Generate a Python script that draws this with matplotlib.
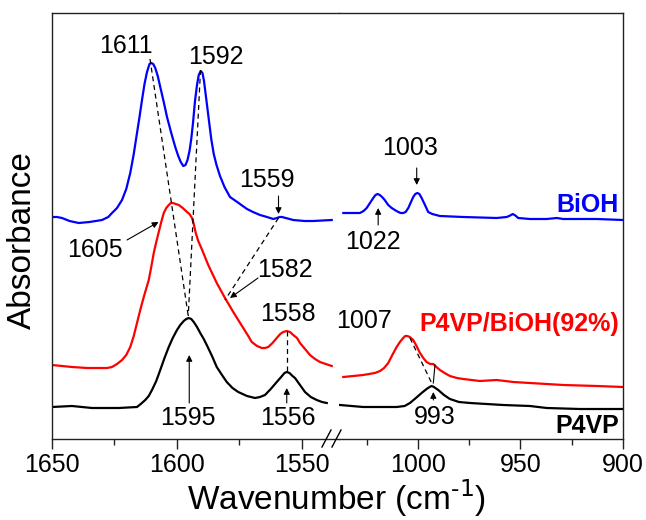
import numpy as np
import matplotlib.pyplot as plt
from matplotlib.lines import Line2D

plt.rcParams['font.family'] = ['Liberation Sans', 'DejaVu Sans']
plt.rcParams['mathtext.default'] = 'regular'

# ---- spectra, 1650-1535 cm-1 window (wavenumber, absorbance offset a.u.) ----
wn_bioh_hi = [1650, 1648, 1646, 1643, 1639.3, 1635, 1630, 1627.5, 1626, 1624, 1622,
              1620.3, 1618.7, 1617.3, 1616, 1615, 1614, 1613, 1612, 1611, 1610.3,
              1609.5, 1608.7, 1607.7, 1606.7, 1605.3, 1604, 1602.3, 1600.7, 1599.5,
              1598.5, 1597.5, 1596.6, 1595.8, 1595, 1594.3, 1593.6, 1592.8, 1592,
              1591.3, 1590.5, 1589.8, 1589.2, 1588.3, 1587.3, 1586.3, 1585.3, 1584.2,
              1582.8, 1581, 1578.8, 1576.5, 1574.8, 1572, 1569.6, 1566.8, 1564,
              1561.5, 1560, 1559, 1558, 1556.5, 1553.5, 1549, 1545.5, 1538.1]
ab_bioh_hi = [2.22, 2.22, 2.21, 2.18, 2.16, 2.17, 2.19, 2.22, 2.26, 2.31, 2.39,
              2.50, 2.66, 2.85, 3.06, 3.22, 3.39, 3.55, 3.67, 3.75, 3.76,
              3.75, 3.71, 3.63, 3.52, 3.37, 3.22, 3.06, 2.92, 2.83,
              2.77, 2.73, 2.74, 2.79, 2.88, 3.00, 3.16, 3.38, 3.54,
              3.64, 3.68, 3.66, 3.58, 3.40, 3.20, 3.00, 2.85, 2.74,
              2.63, 2.52, 2.42, 2.38, 2.35, 2.30, 2.27, 2.24, 2.22,
              2.20, 2.21, 2.22, 2.22, 2.21, 2.19, 2.18, 2.18, 2.19]

wn_blend_hi = [1650, 1642, 1636, 1631, 1628, 1626, 1624, 1622, 1620.3, 1618.7, 1617.3,
               1616, 1614.7, 1613.3, 1611.3, 1610.3, 1609.3, 1608.3, 1607.3, 1606.3,
               1605.3, 1604.3, 1603.3, 1602.5, 1601.7, 1600.5, 1599.3, 1597.7, 1596,
               1595, 1594, 1593.3, 1592.5, 1591.5, 1590.1, 1587.5, 1584.1, 1580.8,
               1577.5, 1573.5, 1571.5, 1570.1, 1568, 1566.1, 1564.8, 1563.5, 1561.8,
               1560.1, 1558.7, 1557.5, 1556.1, 1554.8, 1553.5, 1552, 1550.8, 1548.8,
               1546.8, 1544.8, 1542.8, 1540.5, 1538.1]
ab_blend_hi = [0.74, 0.72, 0.71, 0.71, 0.71, 0.72, 0.75, 0.79, 0.84, 0.92, 1.03,
               1.16, 1.29, 1.42, 1.59, 1.72, 1.86, 1.97, 2.07, 2.17,
               2.26, 2.31, 2.34, 2.36, 2.36, 2.35, 2.34, 2.31, 2.27,
               2.25, 2.21, 2.15, 2.06, 1.98, 1.90, 1.74, 1.56, 1.41,
               1.27, 1.11, 1.03, 0.97, 0.93, 0.91, 0.91, 0.92, 0.96,
               1.01, 1.05, 1.07, 1.08, 1.07, 1.04, 1.01, 0.96, 0.90,
               0.84, 0.80, 0.77, 0.75, 0.73]

wn_p4vp_hi = [1650, 1642, 1634, 1623.3, 1616, 1614.5, 1612.7, 1611.3, 1610, 1608.3,
              1606.7, 1605, 1603.3, 1601.7, 1600, 1598.7, 1597.3, 1596.3, 1595.3,
              1594.3, 1593.3, 1592, 1590.7, 1589.3, 1588.1, 1586, 1584.1, 1582,
              1580.1, 1577.8, 1575.5, 1572, 1568.8, 1566.8, 1564.8, 1562.5, 1560.1,
              1558, 1557, 1556.1, 1555, 1553.8, 1552.8, 1550.8, 1548.8, 1546.5,
              1544.1, 1542, 1540.1]
ab_p4vp_hi = [0.32, 0.33, 0.31, 0.31, 0.32, 0.35, 0.39, 0.43, 0.49, 0.58,
              0.69, 0.81, 0.92, 1.01, 1.09, 1.14, 1.18, 1.20, 1.21,
              1.20, 1.17, 1.12, 1.06, 1.00, 0.94, 0.83, 0.72, 0.64,
              0.57, 0.51, 0.47, 0.43, 0.41, 0.42, 0.44, 0.50, 0.57,
              0.63, 0.66, 0.67, 0.66, 0.63, 0.61, 0.54, 0.47, 0.42,
              0.39, 0.37, 0.36]

# ---- spectra, 1040-900 cm-1 window ----
wn_bioh_lo = [1036.4, 1032, 1028.3, 1026.5, 1025, 1023.4, 1021.8, 1020.7, 1019.7,
              1018.6, 1017.5, 1016.2, 1014.5, 1012.8, 1010.5, 1008.5, 1007.2, 1006,
              1004.7, 1003.4, 1002.3, 1001.3, 1000.3, 999.3, 998.2, 996.8, 995, 993,
              989.3, 977.9, 961.6, 956.7, 955, 953.8, 952.5, 951.1, 945.4, 937.2,
              932.3, 929.1, 921.0, 912.8, 900]
ab_bioh_lo = [2.26, 2.26, 2.26, 2.28, 2.31, 2.36, 2.41, 2.44, 2.45,
              2.44, 2.42, 2.39, 2.34, 2.31, 2.28, 2.26, 2.26, 2.27,
              2.31, 2.37, 2.42, 2.45, 2.46, 2.45, 2.41, 2.35, 2.27, 2.25,
              2.23, 2.22, 2.21, 2.22, 2.235, 2.25, 2.235, 2.21, 2.20, 2.20,
              2.21, 2.20, 2.20, 2.20, 2.19]

wn_blend_lo = [1036.4, 1026.7, 1021, 1018.5, 1016.5, 1014.5, 1012.5, 1010.4, 1008.8,
               1007.2, 1006.2, 1005.2, 1004, 1002.3, 1000.7, 999, 997.4, 995.8, 994,
               992.5, 991, 989.3, 987, 984.4, 981, 977.9, 969.8, 961.6, 953.5, 945.4,
               929.1, 912.8, 900]
ab_blend_lo = [0.62, 0.64, 0.66, 0.68, 0.71, 0.76, 0.84, 0.92, 0.97,
               1.01, 1.03, 1.03, 1.02, 0.99, 0.93, 0.86, 0.81, 0.77, 0.75,
               0.75, 0.72, 0.69, 0.66, 0.63, 0.61, 0.60, 0.58, 0.59, 0.57, 0.56,
               0.54, 0.53, 0.52]

wn_p4vp_lo = [1038, 1026.7, 1010.4, 1006.5, 1003.9, 1001, 998.2, 995.8, 994.3, 993.3,
              992.2, 990.1, 987.3, 984.4, 980, 974.6, 958.4, 945.4, 937.2, 921.0, 900]
ab_p4vp_lo = [0.34, 0.32, 0.32, 0.33, 0.36, 0.41, 0.46, 0.50, 0.52, 0.53,
              0.52, 0.49, 0.44, 0.40, 0.37, 0.36, 0.34, 0.33, 0.31, 0.30, 0.30]

W, H = 646, 520
fig = plt.figure(figsize=(W / 100, H / 100), dpi=100)


def box(x0, x1, y_top=13, y_bot=439):
    return [x0 / W, (H - y_bot) / H, (x1 - x0) / W, (y_bot - y_top) / H]


axL = fig.add_axes(box(52, 339))
axR = fig.add_axes(box(339, 623))

for ax in (axL, axR):
    ax.set_ylim(0, 4.26)
    ax.set_yticks([])
    for s in ax.spines.values():
        s.set_color('#222222')
        s.set_linewidth(1.0)
    ax.tick_params(axis='x', which='major', direction='out', length=7, width=1,
                   labelsize=18, pad=3, color='#222222')
    ax.tick_params(axis='x', which='minor', direction='out', length=4, width=1,
                   color='#222222')
axL.spines['right'].set_visible(False)
axR.spines['left'].set_visible(False)

axL.set_xlim(1650, 1535.2)
axL.set_xticks([1650, 1600, 1550])
axL.set_xticks([1625, 1575], minor=True)
axR.set_xlim(1038.5, 900)
axR.set_xticks([1000, 950, 900])
axR.set_xticks([1025, 975, 925], minor=True)

lw = 1.6
axL.plot(wn_bioh_hi, ab_bioh_hi, color='#0000ff', lw=lw)
axL.plot(wn_blend_hi, ab_blend_hi, color='#ff0000', lw=lw)
axL.plot(wn_p4vp_hi, ab_p4vp_hi, color='black', lw=lw)
axR.plot(wn_bioh_lo, ab_bioh_lo, color='#0000ff', lw=lw)
axR.plot(wn_blend_lo, ab_blend_lo, color='#ff0000', lw=lw)
axR.plot(wn_p4vp_lo, ab_p4vp_lo, color='black', lw=lw)

fs = 18
dash = dict(color='black', lw=0.9, ls=(0, (4, 3)))
arr = dict(arrowstyle='-|>', color='black', lw=0.8, mutation_scale=9, shrinkA=0, shrinkB=0)

# peak shifts in the C=N / ring region
axL.text(1620.4, 3.93, '1611', ha='center', va='center', fontsize=fs)
axL.text(1584.4, 3.82, '1592', ha='center', va='center', fontsize=fs)
axL.plot([1610.8, 1595.5], [3.80, 1.23], **dash)
axL.plot([1590.6, 1595.5], [3.69, 1.23], **dash)

axL.text(1564, 2.59, '1559', ha='center', va='center', fontsize=fs)
axL.annotate('', xy=(1559.4, 2.25), xytext=(1559.4, 2.43), arrowprops=arr)
axL.plot([1559.4, 1580.8], [2.21, 1.39], **dash)

axL.text(1632.8, 1.89, '1605', ha='center', va='center', fontsize=fs)
axL.annotate('', xy=(1607.4, 2.17), xytext=(1620, 1.99), arrowprops=arr)

axL.text(1556.8, 1.69, '1582', ha='center', va='center', fontsize=fs)
axL.annotate('', xy=(1578.8, 1.41), xytext=(1567.6, 1.61), arrowprops=arr)

axL.text(1555.6, 1.25, '1558', ha='center', va='center', fontsize=fs)
axL.plot([1556.1, 1556.1], [1.08, 0.67], **dash)
axL.text(1555.6, 0.21, '1556', ha='center', va='center', fontsize=fs)
axL.annotate('', xy=(1556.1, 0.51), xytext=(1556.1, 0.36), arrowprops=arr)

axL.text(1595.6, 0.21, '1595', ha='center', va='center', fontsize=fs)
axL.annotate('', xy=(1595.1, 0.84), xytext=(1595.1, 0.36), arrowprops=arr)

# ring breathing region
axR.text(1022, 1.97, '1022', ha='center', va='center', fontsize=fs)
axR.annotate('', xy=(1019.4, 2.31), xytext=(1019.4, 2.14), arrowprops=arr)
axR.text(1003.9, 2.91, '1003', ha='center', va='center', fontsize=fs)
axR.annotate('', xy=(1000.6, 2.54), xytext=(1000.6, 2.71), arrowprops=arr)

axR.text(1026.3, 1.18, '1007', ha='center', va='center', fontsize=fs)
axR.plot([1003.9, 993.3], [1.01, 0.56], **dash)
axR.plot([991.7, 992.5], [0.74, 0.56], color='black', lw=0.8)
axR.annotate('', xy=(992.5, 0.47), xytext=(992.5, 0.39), arrowprops=arr)
axR.text(991.7, 0.22, '993', ha='center', va='center', fontsize=fs)

axR.text(902, 2.34, 'BiOH', ha='right', va='center', fontsize=fs,
         fontweight='bold', color='#0000ff')
axR.text(902, 1.15, 'P4VP/BiOH(92%)', ha='right', va='center', fontsize=fs,
         fontweight='bold', color='#ff0000')
axR.text(902, 0.13, 'P4VP', ha='right', va='center', fontsize=fs,
         fontweight='bold', color='black')

# axis break marks
for x0 in (322, 332):
    fig.add_artist(Line2D([x0 / W, (x0 + 9) / W], [(H - 447) / H, (H - 430) / H],
                          color='black', lw=1.0))

fig.text(336 / W, (H - 510) / H, r'Wavenumber (cm$^{\text{-1}}$)', ha='center',
         va='baseline', fontsize=24)
fig.text(22 / W, (H - 240) / H, 'Absorbance', ha='center', va='center',
         rotation=90, fontsize=24)

fig.savefig('out.png', dpi=100)
